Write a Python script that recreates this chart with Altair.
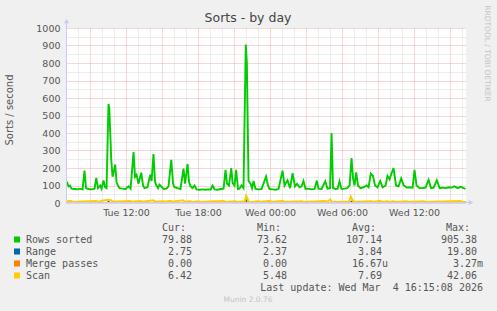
import altair as alt
import pandas as pd

# ---- data (hours since Tue 00:00, value) ----
rows_hours = [7.07, 7.21, 7.33, 7.46, 7.71, 7.96, 8.13, 8.38, 8.54, 8.67, 8.88, 9.13, 9.38, 9.52, 9.67,
              9.85, 9.96, 10.13, 10.25, 10.38, 10.54, 10.61, 10.77, 10.88, 11.10, 11.21, 11.33, 11.46,
              11.71, 11.96, 12.21, 12.38, 12.63, 12.75, 12.88, 13.04, 13.27, 13.42, 13.54, 13.79, 14.02,
              14.13, 14.29, 14.42, 14.54, 14.67, 14.79, 14.96, 15.13, 15.38, 15.54, 15.77, 15.92, 16.04,
              16.29, 16.54, 16.79, 16.92, 17.13, 17.25, 17.38, 17.54, 17.71, 17.88, 18.13, 18.38, 18.63,
              18.88, 19.04, 19.21, 19.38, 19.63, 19.88, 20.13, 20.29, 20.42, 20.58, 20.77, 20.88, 21.04,
              21.18, 21.33, 21.46, 21.63, 21.79, 21.98, 22.07, 22.21, 22.38, 22.50, 22.63, 22.79, 23.04,
              23.29, 23.67, 23.83, 23.96, 24.21, 24.46, 24.71, 25.04, 25.21, 25.46, 25.67, 25.88, 26.08,
              26.25, 26.46, 26.63, 26.79, 26.96, 27.21, 27.46, 27.71, 27.90, 28.04, 28.29, 28.60, 28.79,
              29.00, 29.13, 29.25, 29.46, 29.63, 29.79, 29.96, 30.21, 30.42, 30.63, 30.79, 30.92, 31.04,
              31.18, 31.33, 31.54, 31.79, 32.04, 32.21, 32.40, 32.58, 32.75, 32.96, 33.18, 33.38, 33.63,
              33.79, 33.96, 34.10, 34.29, 34.50, 34.71, 34.93, 35.13, 35.38, 35.63, 35.88, 36.04, 36.21,
              36.46, 36.71, 36.96, 37.21, 37.42, 37.63, 37.90, 38.13, 38.38, 38.63, 38.88, 39.13, 39.38,
              39.63, 39.88, 40.13, 40.29]
rows_vals = [123, 95, 100, 82, 80, 78, 82, 78, 185, 85, 80, 78, 82, 143, 85,
             100, 82, 129, 90, 85, 566, 540, 247, 150, 219, 120, 100, 85,
             82, 80, 95, 82, 291, 150, 162, 110, 173, 100, 85, 90, 162,
             126, 280, 120, 100, 85, 105, 93, 80, 82, 95, 247, 110, 90,
             85, 80, 196, 110, 223, 120, 95, 85, 100, 78, 76, 78, 76,
             78, 76, 100, 78, 76, 80, 82, 190, 110, 100, 200, 115, 100,
             190, 80, 82, 100, 85, 905, 800, 126, 110, 85, 126, 80, 78,
             80, 152, 100, 80, 78, 76, 80, 185, 100, 130, 85, 170, 95,
             110, 90, 95, 126, 80, 82, 78, 80, 128, 82, 80, 124, 82,
             85, 400, 85, 80, 82, 124, 80, 82, 85, 100, 257, 140, 100,
             175, 100, 85, 90, 100, 90, 168, 155, 100, 90, 126, 90, 100,
             155, 135, 165, 200, 100, 95, 140, 102, 88, 90, 88, 190, 100,
             85, 85, 88, 132, 85, 88, 130, 85, 88, 85, 90, 88, 95,
             85, 92, 85, 80]

range_hours = [7.0, 10.45, 10.54, 10.65, 21.9, 22.0, 22.1, 22.7, 22.79, 22.9, 30.7, 30.79, 30.9, 40.33]
range_vals = [3, 3, 8, 3, 3, 19.8, 3, 3, 8, 3, 3, 10, 3, 2.75]

merge_hours = [7.0, 40.33]
merge_vals = [0, 0]

scan_hours = [7.0, 7.35, 7.6, 9.5, 9.7, 10.13, 10.54, 10.77, 10.95, 12.35, 12.5, 13.18, 13.35, 14.29,
              14.45, 15.13, 15.3, 15.68, 15.85, 16.73, 16.9, 17.35, 17.5, 18.04, 18.2, 20.13, 20.3, 21.1,
              21.25, 21.9, 22.0, 22.1, 22.2, 22.4, 23.04, 23.2, 24.0, 24.15, 25.04, 25.2, 26.65, 26.8,
              28.6, 28.75, 29.02, 29.15, 30.6, 30.73, 30.9, 31.0, 32.48, 32.6, 33.18, 33.3, 33.79, 33.96,
              34.29, 34.45, 35.38, 35.5, 36.79, 36.95, 39.85, 40.0, 40.33]
scan_vals = [7, 12, 6, 12, 7, 14, 18, 14, 7, 12, 7, 12, 7, 15,
             7, 10, 7, 12, 7, 15, 7, 10, 6, 10, 6, 12, 6, 10,
             6, 10, 42, 30, 8, 6, 10, 6, 12, 6, 12, 6, 10, 6,
             12, 6, 20, 6, 8, 38, 15, 6, 10, 6, 12, 6, 10, 6,
             10, 6, 10, 6, 10, 6, 12, 6, 6.4]

series_names = ["Rows sorted", "Range", "Merge passes", "Scan"]
series_colors = ["#00CC00", "#0066B3", "#FF8000", "#FFCC00"]
cur_vals = ["79.88", "2.75", "0.00", "6.42"]
min_vals = ["73.62", "2.37", "0.00", "5.48"]
avg_vals = ["107.14", "3.84", "16.67u", "7.69"]
max_vals = ["905.38", "19.80", "3.27m", "42.06"]
headers = ["Cur:", "Min:", "Avg:", "Max:"]

x_tick_hours = [12, 18, 24, 30, 36]
x_tick_labels = ["Tue 12:00", "Tue 18:00", "Wed 00:00", "Wed 06:00", "Wed 12:00"]

title_text = "Sorts - by day"
y_title = "Sorts / second"
side_text = "RRDTOOL / TOBI OETIKER"
last_update = "Last update: Wed Mar\u00a0\u00a04 16:15:08 2026"
footer = "Munin 2.0.76"

# ---- build ----
W, H = 400, 175
RED = "#EBAFAF"
GRAY = "#DADADA"
AXIS = "#CACAF4"
TXT = "#555555"

series_data = [
    (rows_hours, rows_vals), (range_hours, range_vals),
    (merge_hours, merge_vals), (scan_hours, scan_vals)
]
frames = []
for name, (hs, vs) in zip(series_names, series_data):
    frames.append(pd.DataFrame({"h": hs, "v": vs, "s": name}))
df = pd.concat(frames, ignore_index=True)

label_expr = ""
for hv, lab in zip(x_tick_hours, x_tick_labels):
    label_expr += f"datum.value === {hv} ? '{lab}' : "
label_expr += "''"

x_axis = alt.Axis(
    values=list(range(7, 41)), labelExpr=label_expr, title=None, domain=False, ticks=False,
    labelPadding=4, labelFontSize=9.5, labelColor=TXT, labelFont="DejaVu Sans",
    gridColor={"condition": {"test": "datum.value % 3 === 0", "value": RED}, "value": GRAY},
    gridDash=[1, 1], gridWidth=1, labelOverlap=False,
)
y_axis = alt.Axis(
    values=list(range(0, 1001, 50)), labelExpr="datum.value % 100 === 0 ? datum.label : ''",
    format="d", title=None, domain=False, ticks=False, labelPadding=6, labelFontSize=9.5,
    labelColor=TXT, labelFont="DejaVu Sans", labelOverlap=False,
    gridColor={"condition": {"test": "datum.value % 100 === 0", "value": RED}, "value": GRAY},
    gridDash=[1, 1], gridWidth=1,
)

base = alt.Chart(df).encode(
    x=alt.X("h:Q", scale=alt.Scale(domain=[7.0, 40.33], nice=False, zero=False), axis=x_axis),
    y=alt.Y("v:Q", scale=alt.Scale(domain=[0, 1000], nice=False), axis=y_axis),
)

layers = []
widths = [1.9, 1.2, 1.2, 2.0]
for name, col, w in zip(series_names, series_colors, widths):
    layers.append(base.transform_filter(alt.datum.s == name)
                  .mark_line(color=col, strokeWidth=w, clip=True))


def one(text):
    return alt.Chart(pd.DataFrame({"t": [text]}))


def txt(text, x, y, **kw):
    props = dict(font="DejaVu Sans", color=TXT, baseline="middle")
    props.update(kw)
    return one(text).mark_text(**props).encode(x=alt.value(x), y=alt.value(y), text="t:N")


# axis lines with arrows
layers.append(one("ax").mark_rule(color=AXIS, strokeWidth=1).encode(
    x=alt.value(0.5), y=alt.value(-6), y2=alt.value(H)))
layers.append(one("ax").mark_rule(color=AXIS, strokeWidth=1).encode(
    x=alt.value(0), x2=alt.value(W + 4), y=alt.value(H - 0.5)))
layers.append(one("ar").mark_point(shape="triangle-up", filled=True, color=AXIS, size=28, opacity=1).encode(
    x=alt.value(0.5), y=alt.value(-7)))
layers.append(one("ar").mark_point(shape="triangle-right", filled=True, color=AXIS, size=28, opacity=1).encode(
    x=alt.value(W + 5), y=alt.value(H - 0.5)))

# titles
layers.append(txt(title_text, 182, -10, fontSize=12.5, align="center", color="#444444"))
layers.append(txt(y_title, -56, 82, fontSize=10, align="center", angle=270))
layers.append(txt(side_text, 421, 25.5, fontSize=7.5, align="center", angle=90, color="#C4C4C4"))

# legend
MONO = "DejaVu Sans Mono"
hdr_x = [120, 215, 310, 404]
num_x = [126, 221, 316, 411]
for hx, h in zip(hdr_x, headers):
    layers.append(txt(h, hx, 200, font=MONO, fontSize=10, align="right"))
for i, name in enumerate(series_names):
    yy = 211.5 + 12 * i
    layers.append(one(name).mark_square(color=series_colors[i], size=36, opacity=1).encode(
        x=alt.value(-49), y=alt.value(yy)))
    layers.append(txt(name, -40, yy, font=MONO, fontSize=10, align="left"))
    for nx, col in zip(num_x, [cur_vals, min_vals, avg_vals, max_vals]):
        v = col[i]
        extra = 6 if v[-1].isalpha() else 0
        layers.append(txt(v, nx + extra, yy, font=MONO, fontSize=10, align="right"))

layers.append(txt(last_update, 417, 259.7, font=MONO, fontSize=10, align="right"))
layers.append(txt(footer, 182, 272, fontSize=7.5, align="center", color="#C4C4C4"))

chart = alt.layer(*layers).properties(
    width=W, height=H,
    background="#F0F0F0",
    autosize=alt.AutoSizeParams(type="none"),
    padding={"left": 66, "top": 28, "right": 31, "bottom": 108},
).configure_view(fill="white", stroke=None)

chart.save("out.html", embed_options={"renderer": "svg", "actions": False})
